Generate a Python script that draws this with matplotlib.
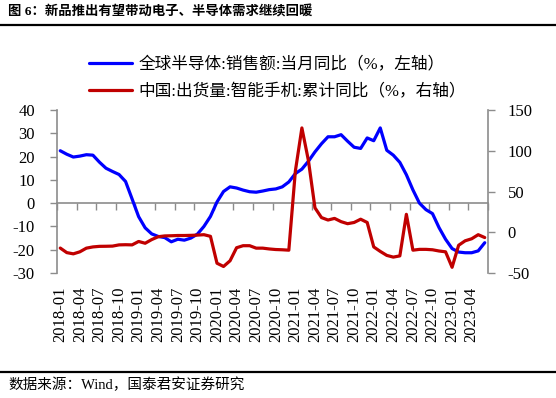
import matplotlib
matplotlib.use("Agg")
import matplotlib.pyplot as plt
from matplotlib.lines import Line2D
import numpy as np

plt.rcParams['font.family'] = ['Liberation Serif', 'Noto Sans CJK SC']
plt.rcParams['axes.unicode_minus'] = False

# ---------------- data ----------------
months = [f"{y}-{m:02d}" for y in range(2018, 2024) for m in range(1, 13)][:66]

semi_sales_yoy = [
    22.5, 21.0, 19.8, 20.2, 20.8, 20.6, 17.6, 15.0, 13.6, 12.3, 9.3, 1.8,
    -5.8, -10.6, -13.2, -14.3, -14.8, -16.6, -15.5, -15.9, -15.0, -13.3, -10.0, -5.7,
    0.5, 5.0, 7.0, 6.5, 5.6, 4.9, 4.7, 5.2, 5.8, 6.1, 7.0, 9.1,
    12.7, 14.6, 18.0, 22.0, 25.5, 28.5, 28.5, 29.4, 26.6, 24.0, 23.5, 28.0,
    26.8, 32.3, 22.7, 20.6, 17.5, 12.2, 5.7, 0.0, -2.8, -4.5, -10.5, -15.5,
    -19.5, -21.0, -21.3, -21.3, -20.5, -17.0,
]

phone_ship_yoy = [
    -19.4, -25.0, -26.5, -24.0, -19.5, -18.0, -17.3, -17.2, -17.0, -15.5, -15.3, -15.5,
    -11.3, -13.5, -9.0, -5.5, -4.5, -4.3, -4.0, -4.0, -3.8, -3.5, -3.0, -5.0,
    -38.0, -42.0, -35.0, -19.0, -16.5, -16.5, -19.5, -19.5, -20.5, -21.2, -21.5, -22.0,
    75.0, 128.0, 88.0, 30.0, 18.0, 15.0, 17.0, 13.0, 10.5, 12.0, 16.0, 12.0,
    -18.0, -23.5, -28.4, -30.5, -29.0, 22.0, -22.0, -21.0, -21.0, -21.5, -23.0, -24.0,
    -43.0, -16.0, -10.5, -8.0, -3.0, -6.5,
]

label_left = "全球半导体:销售额:当月同比（%，左轴）"
label_right = "中国:出货量:智能手机:累计同比（%，右轴）"
title = "图 6：新品推出有望带动电子、半导体需求继续回暖"
source = "数据来源：Wind，国泰君安证券研究"

left_ticks = [-30, -20, -10, 0, 10, 20, 30, 40]
right_ticks = [-50, 0, 50, 100, 150]

# ---------------- figure ----------------
W, H = 556, 398
fig = plt.figure(figsize=(W / 100, H / 100), dpi=100)
ax = fig.add_axes([57 / W, 1 - 273 / H, (488 - 57) / W, (273 - 110) / H])

x = np.arange(len(months))
grey = '#8c8c8c'

ln1, = ax.plot(x, semi_sales_yoy, color='#0000FF', lw=2.3, solid_capstyle='round')
ax.set_ylim(-30, 40)
ax.set_yticks(left_ticks)
ax.set_xlim(-0.5, len(months) - 0.5)
ax.set_xticks(x[::3])
ax.set_xticklabels(months[::3], rotation=90, fontsize=12)
ax.tick_params(axis='x', length=0, pad=10)
ax.tick_params(axis='y', direction='out', length=5, width=1, color=grey,
               labelsize=12, pad=11)
for s in ['top', 'bottom', 'right']:
    ax.spines[s].set_visible(False)
ax.spines['left'].set_color(grey)
ax.spines['left'].set_linewidth(1.2)

# zero line with category ticks
sec = ax.secondary_xaxis((0 - (-30)) / 70)
sec.set_xticks(np.arange(-0.5, len(months), 3))
sec.set_xticklabels([])
sec.tick_params(direction='out', length=5, width=1, color=grey)
sec.spines['bottom'].set_color(grey)
sec.spines['bottom'].set_linewidth(1.2)

ax2 = ax.twinx()
ln2, = ax2.plot(x, phone_ship_yoy, color='#C00000', lw=2.3, solid_capstyle='round')
ax2.set_ylim(-50, 150)
ax2.set_yticks(right_ticks)
ax2.tick_params(axis='y', direction='out', length=5, width=1, color=grey,
                labelsize=12, pad=9)
for s in ['top', 'bottom', 'left']:
    ax2.spines[s].set_visible(False)
ax2.spines['right'].set_color(grey)
ax2.spines['right'].set_linewidth(1.2)

fig.legend([ln1, ln2], [label_left, label_right], loc='upper left',
           bbox_to_anchor=(89 / W, 1 - 57 / H), frameon=False, fontsize=12,
           handlelength=2.55, handletextpad=0.4, labelspacing=0.65,
           borderpad=0, borderaxespad=0)

fig.text(8 / W, 1 - 12 / H, title, fontsize=9.6, fontweight='bold', va='center', ha='left')
fig.add_artist(Line2D([0, 1], [1 - 24.5 / H, 1 - 24.5 / H], transform=fig.transFigure,
                      color='black', lw=1.6))
fig.add_artist(Line2D([0, 1], [1 - 372 / H, 1 - 372 / H], transform=fig.transFigure,
                      color='black', lw=1.6))
fig.text(8 / W, 1 - 385 / H, source, fontsize=10.5, va='center', ha='left')

fig.savefig('out.png', dpi=100)
